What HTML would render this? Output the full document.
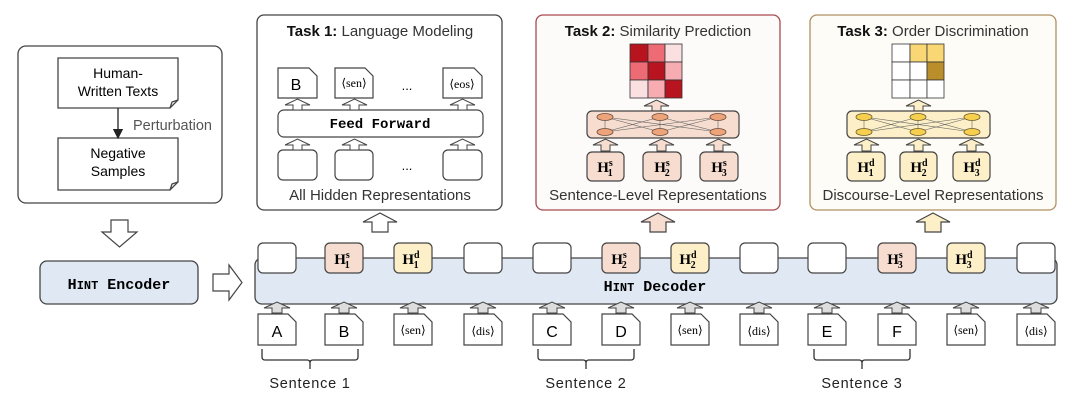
<!DOCTYPE html>
<html><head><meta charset="utf-8"><style>
html,body{margin:0;padding:0;background:#fff;}
svg{display:block;}
.s{font-family:"Liberation Sans",sans-serif;}
.m{font-family:"Liberation Mono",monospace;font-weight:bold;}
.r{font-family:"Liberation Serif",serif;}
</style></head><body>
<svg width="1080" height="404" viewBox="0 0 1080 404" xmlns="http://www.w3.org/2000/svg">
<defs>
<marker id="ah" markerWidth="8" markerHeight="8" refX="4" refY="4" orient="auto"><path d="M0,0 L8,4 L0,8 z" fill="#222"/></marker>
</defs>
<g stroke="#444" stroke-width="1.3" fill="#fff">
<rect x="18" y="46" width="204" height="157" rx="8"/>
<path d="M58,58 h120 v42 l-8,8 h-112 z"/><path d="M170,108 l2,-6 l6,-2" fill="none"/>
<path d="M58,138 h120 v44 l-8,8 h-112 z"/><path d="M170,190 l2,-6 l6,-2" fill="none"/>
</g>
<line x1="118" y1="108" x2="118" y2="134" stroke="#222" stroke-width="1.3" marker-end="url(#ah)"/>
<text x="133" y="130" class="s" font-size="14.5" fill="#555">Perturbation</text>
<text x="118" y="78" class="s" font-size="14" text-anchor="middle">Human-</text>
<text x="118" y="96" class="s" font-size="14" text-anchor="middle">Written Texts</text>
<text x="118" y="158" class="s" font-size="14" text-anchor="middle">Negative</text>
<text x="118" y="176" class="s" font-size="14" text-anchor="middle">Samples</text>
<polygon points="111,220 128,220 128,232 137,232 119.5,247 102,232 111,232" fill="#fff" stroke="#444" stroke-width="1.2"/>
<rect x="40" y="261" width="158" height="43" rx="7" fill="#dfe8f3" stroke="#444" stroke-width="1.3"/>
<text x="119" y="289" class="m" font-size="15" text-anchor="middle">H<tspan font-size="12">INT</tspan> Encoder</text>
<polygon points="213,274 229,274 229,265 242,282.5 229,300 229,291 213,291" fill="#fff" stroke="#444" stroke-width="1.2"/>

<!-- Task 1 -->
<rect x="257" y="15" width="245" height="195" rx="7" fill="#fff" stroke="#444" stroke-width="1.3"/>
<text x="380" y="36" class="s" font-size="15" text-anchor="middle" fill="#333"><tspan font-weight="bold" fill="#111">Task 1:</tspan> Language Modeling</text>
<g stroke="#444" stroke-width="1.2" fill="#fff">
<path d="M278,68 h31 l8,8 v22 h-39 z"/><path d="M335,68 h30 l8,8 v22 h-38 z"/><path d="M443,68 h31 l8,8 v22 h-39 z"/>
<rect x="278" y="110" width="205" height="27" rx="6"/>
<rect x="278" y="150" width="39" height="30" rx="5"/><rect x="335" y="150" width="38" height="30" rx="5"/><rect x="443" y="150" width="39" height="30" rx="5"/>
</g>
<g fill="#fff" stroke="#444" stroke-width="1">
<polygon points="293,110 293,105 285,105 297.5,99 310,105 302,105 302,110"/>
<polygon points="350,110 350,105 342,105 354.5,99 367,105 359,105 359,110"/>
<polygon points="458,110 458,105 450,105 462.5,99 475,105 467,105 467,110"/>
<polygon points="293,150 293,145 285,145 297.5,139 310,145 302,145 302,150"/>
<polygon points="350,150 350,145 342,145 354.5,139 367,145 359,145 359,150"/>
<polygon points="458,150 458,145 450,145 462.5,139 475,145 467,145 467,150"/>
</g>
<text x="296" y="90" class="s" font-size="16" text-anchor="middle">B</text>
<text x="354" y="87" class="r" font-size="12" text-anchor="middle">⟨sen⟩</text>
<text x="462" y="88" class="r" font-size="12" text-anchor="middle">⟨eos⟩</text>
<text x="407" y="90" class="s" font-size="13" text-anchor="middle">...</text>
<text x="407" y="170" class="s" font-size="13" text-anchor="middle">...</text>
<text x="380" y="128" class="m" font-size="14" text-anchor="middle">Feed Forward</text>
<text x="380" y="200" class="s" font-size="15" text-anchor="middle" fill="#333">All Hidden Representations</text>

<!-- Task 2 -->
<rect x="536" y="15" width="244" height="195" rx="7" fill="#fdfbf9" stroke="#a94a4f" stroke-width="1.3"/>
<text x="658" y="36" class="s" font-size="15" text-anchor="middle" fill="#333"><tspan font-weight="bold" fill="#111">Task 2:</tspan> Similarity Prediction</text>
<g stroke="#333" stroke-width="0.8">
<rect x="630" y="44" width="18" height="18" fill="#b8141f"/><rect x="648" y="44" width="17" height="18" fill="#ec6b74"/><rect x="665" y="44" width="17" height="18" fill="#fbe0e2"/>
<rect x="630" y="62" width="18" height="18" fill="#ec6b74"/><rect x="648" y="62" width="17" height="18" fill="#b8141f"/><rect x="665" y="62" width="17" height="18" fill="#f6acb0"/>
<rect x="630" y="80" width="18" height="18" fill="#fbe0e2"/><rect x="648" y="80" width="17" height="18" fill="#f6acb0"/><rect x="665" y="80" width="17" height="18" fill="#b8141f"/>
</g>
<polygon points="652,111 652,106 644,106 656.5,100 669,106 661,106 661,111" fill="#f6ddd0" stroke="#444"/>
<rect x="587" y="111" width="152" height="27" rx="5" fill="#f6ddd0" stroke="#444" stroke-width="1.2"/>
<g stroke="#666" stroke-width="0.6">
<line x1="605" y1="117" x2="605" y2="132"/><line x1="660" y1="117" x2="660" y2="132"/><line x1="718" y1="117" x2="718" y2="132"/>
<line x1="605" y1="117" x2="660" y2="132"/><line x1="605" y1="117" x2="718" y2="132"/><line x1="660" y1="117" x2="605" y2="132"/><line x1="660" y1="117" x2="718" y2="132"/><line x1="718" y1="117" x2="605" y2="132"/><line x1="718" y1="117" x2="660" y2="132"/>
</g>
<g fill="#eea47a" stroke="#6a4a3a" stroke-width="0.8">
<ellipse cx="605" cy="117" rx="8" ry="3.5"/><ellipse cx="660" cy="117" rx="8" ry="3.5"/><ellipse cx="718" cy="117" rx="8" ry="3.5"/>
<ellipse cx="605" cy="132" rx="8" ry="3.5"/><ellipse cx="660" cy="132" rx="8" ry="3.5"/><ellipse cx="718" cy="132" rx="8" ry="3.5"/>
</g>
<g fill="#f6ddd0" stroke="#444" stroke-width="1">
<polygon points="601,151 601,145 593,145 605.5,139 618,145 610,145 610,151"/>
<polygon points="657,151 657,145 649,145 661.5,139 674,145 666,145 666,151"/>
<polygon points="714,151 714,145 706,145 718.5,139 731,145 723,145 723,151"/>
<rect x="587" y="152" width="37" height="29" rx="5" stroke-width="1.2"/><rect x="643" y="152" width="38" height="29" rx="5" stroke-width="1.2"/><rect x="700" y="152" width="38" height="29" rx="5" stroke-width="1.2"/>
</g>
<g class="r" font-size="15" font-weight="bold" text-anchor="middle">
<text x="605" y="172">H<tspan font-size="10" dy="-6">s</tspan><tspan font-size="10" dx="-5" dy="10">1</tspan></text>
<text x="662" y="172">H<tspan font-size="10" dy="-6">s</tspan><tspan font-size="10" dx="-5" dy="10">2</tspan></text>
<text x="719" y="172">H<tspan font-size="10" dy="-6">s</tspan><tspan font-size="10" dx="-5" dy="10">3</tspan></text>
</g>
<text x="658" y="200" class="s" font-size="15" text-anchor="middle" fill="#333">Sentence-Level Representations</text>

<!-- Task 3 -->
<rect x="810" y="15" width="246" height="195" rx="7" fill="#fdfcf7" stroke="#b09060" stroke-width="1.3"/>
<text x="933" y="36" class="s" font-size="15" text-anchor="middle" fill="#333"><tspan font-weight="bold" fill="#111">Task 3:</tspan> Order Discrimination</text>
<g stroke="#333" stroke-width="0.8">
<rect x="892" y="44" width="18" height="18" fill="#fff"/><rect x="910" y="44" width="17" height="18" fill="#f8d774"/><rect x="927" y="44" width="17" height="18" fill="#f8d774"/>
<rect x="892" y="62" width="18" height="18" fill="#fff"/><rect x="910" y="62" width="17" height="18" fill="#fff"/><rect x="927" y="62" width="17" height="18" fill="#ba8e2a"/>
<rect x="892" y="80" width="18" height="18" fill="#fff"/><rect x="910" y="80" width="17" height="18" fill="#fff"/><rect x="927" y="80" width="17" height="18" fill="#fff"/>
</g>
<polygon points="914,111 914,106 906,106 918.5,100 931,106 923,106 923,111" fill="#fdf0c8" stroke="#444"/>
<rect x="847" y="111" width="143" height="27" rx="5" fill="#fdf0c8" stroke="#444" stroke-width="1.2"/>
<g stroke="#666" stroke-width="0.6">
<line x1="864" y1="117" x2="864" y2="132"/><line x1="918" y1="117" x2="918" y2="132"/><line x1="972" y1="117" x2="972" y2="132"/>
<line x1="864" y1="117" x2="918" y2="132"/><line x1="864" y1="117" x2="972" y2="132"/><line x1="918" y1="117" x2="864" y2="132"/><line x1="918" y1="117" x2="972" y2="132"/><line x1="972" y1="117" x2="864" y2="132"/><line x1="972" y1="117" x2="918" y2="132"/>
</g>
<g fill="#f7cf4f" stroke="#6a5a2a" stroke-width="0.8">
<ellipse cx="864" cy="117" rx="8" ry="3.5"/><ellipse cx="918" cy="117" rx="8" ry="3.5"/><ellipse cx="972" cy="117" rx="8" ry="3.5"/>
<ellipse cx="864" cy="132" rx="8" ry="3.5"/><ellipse cx="918" cy="132" rx="8" ry="3.5"/><ellipse cx="972" cy="132" rx="8" ry="3.5"/>
</g>
<g fill="#fdf0c8" stroke="#444" stroke-width="1">
<polygon points="862,151 862,145 854,145 866.5,139 879,145 871,145 871,151"/>
<polygon points="914,151 914,145 906,145 918.5,139 931,145 923,145 923,151"/>
<polygon points="967,151 967,145 959,145 971.5,139 984,145 976,145 976,151"/>
<rect x="847" y="152" width="38" height="29" rx="5" stroke-width="1.2"/><rect x="900" y="152" width="37" height="29" rx="5" stroke-width="1.2"/><rect x="953" y="152" width="37" height="29" rx="5" stroke-width="1.2"/>
</g>
<g class="r" font-size="15" font-weight="bold" text-anchor="middle">
<text x="866" y="172">H<tspan font-size="10" dy="-6">d</tspan><tspan font-size="10" dx="-6" dy="10">1</tspan></text>
<text x="919" y="172">H<tspan font-size="10" dy="-6">d</tspan><tspan font-size="10" dx="-6" dy="10">2</tspan></text>
<text x="972" y="172">H<tspan font-size="10" dy="-6">d</tspan><tspan font-size="10" dx="-6" dy="10">3</tspan></text>
</g>
<text x="933" y="200" class="s" font-size="15" text-anchor="middle" fill="#333">Discourse-Level Representations</text>

<polygon points="372,232 372,222 363,222 380,213 397,222 388,222 388,232" fill="#fff" stroke="#444" stroke-width="1.2"/>
<polygon points="650,232 650,222 641,222 658,213 675,222 666,222 666,232" fill="#f6ddd0" stroke="#444" stroke-width="1.2"/>
<polygon points="925,232 925,222 916,222 933,213 950,222 941,222 941,232" fill="#fdf0c8" stroke="#444" stroke-width="1.2"/>

<!-- decoder -->
<rect x="255" y="258" width="802" height="46" rx="7" fill="#dfe8f3" stroke="#444" stroke-width="1.3"/>
<text x="655" y="291" class="m" font-size="15" text-anchor="middle">H<tspan font-size="12">INT</tspan> Decoder</text>
<g stroke="#444" stroke-width="1.2">
<rect x="258" y="243" width="38" height="30" rx="5" fill="#fff"/>
<rect x="325" y="243" width="38" height="30" rx="5" fill="#f6ddd0"/>
<rect x="394" y="243" width="38" height="30" rx="5" fill="#fdf0c8"/>
<rect x="464" y="243" width="38" height="30" rx="5" fill="#fff"/>
<rect x="533" y="243" width="38" height="30" rx="5" fill="#fff"/>
<rect x="602" y="243" width="38" height="30" rx="5" fill="#f6ddd0"/>
<rect x="671" y="243" width="38" height="30" rx="5" fill="#fdf0c8"/>
<rect x="740" y="243" width="38" height="30" rx="5" fill="#fff"/>
<rect x="808" y="243" width="38" height="30" rx="5" fill="#fff"/>
<rect x="878" y="243" width="38" height="30" rx="5" fill="#f6ddd0"/>
<rect x="947" y="243" width="38" height="30" rx="5" fill="#fdf0c8"/>
<rect x="1017" y="243" width="38" height="30" rx="5" fill="#fff"/>
</g>
<g class="r" font-size="15" font-weight="bold" text-anchor="middle">
<text x="342" y="264">H<tspan font-size="10" dy="-6">s</tspan><tspan font-size="10" dx="-5" dy="10">1</tspan></text>
<text x="411" y="264">H<tspan font-size="10" dy="-6">d</tspan><tspan font-size="10" dx="-6" dy="10">1</tspan></text>
<text x="619" y="264">H<tspan font-size="10" dy="-6">s</tspan><tspan font-size="10" dx="-5" dy="10">2</tspan></text>
<text x="688" y="264">H<tspan font-size="10" dy="-6">d</tspan><tspan font-size="10" dx="-6" dy="10">2</tspan></text>
<text x="895" y="264">H<tspan font-size="10" dy="-6">s</tspan><tspan font-size="10" dx="-5" dy="10">3</tspan></text>
<text x="964" y="264">H<tspan font-size="10" dy="-6">d</tspan><tspan font-size="10" dx="-6" dy="10">3</tspan></text>
</g>
<g fill="#ddd" stroke="#444" stroke-width="1">
<polygon points="272,313 272,308 264,308 277,302 290,308 282,308 282,313"/>
<polygon points="339,313 339,308 331,308 344,302 357,308 349,308 349,313"/>
<polygon points="408,313 408,308 400,308 413,302 426,308 418,308 418,313"/>
<polygon points="478,313 478,308 470,308 483,302 496,308 488,308 488,313"/>
<polygon points="547,313 547,308 539,308 552,302 565,308 557,308 557,313"/>
<polygon points="616,313 616,308 608,308 621,302 634,308 626,308 626,313"/>
<polygon points="685,313 685,308 677,308 690,302 703,308 695,308 695,313"/>
<polygon points="754,313 754,308 746,308 759,302 772,308 764,308 764,313"/>
<polygon points="822,313 822,308 814,308 827,302 840,308 832,308 832,313"/>
<polygon points="892,313 892,308 884,308 897,302 910,308 902,308 902,313"/>
<polygon points="961,313 961,308 953,308 966,302 979,308 971,308 971,313"/>
<polygon points="1031,313 1031,308 1023,308 1036,302 1049,308 1041,308 1041,313"/>
</g>
<g fill="#fff" stroke="#444" stroke-width="1.2">
<path d="M258,314 h30 l8,8 v23 h-38 z"/><path d="M325,314 h30 l8,8 v23 h-38 z"/>
<path d="M394,314 h30 l8,8 v23 h-38 z"/><path d="M464,314 h30 l8,8 v23 h-38 z"/>
<path d="M533,314 h30 l8,8 v23 h-38 z"/><path d="M602,314 h30 l8,8 v23 h-38 z"/>
<path d="M671,314 h30 l8,8 v23 h-38 z"/><path d="M740,314 h30 l8,8 v23 h-38 z"/>
<path d="M808,314 h30 l8,8 v23 h-38 z"/><path d="M878,314 h30 l8,8 v23 h-38 z"/>
<path d="M947,314 h30 l8,8 v23 h-38 z"/><path d="M1017,314 h30 l8,8 v23 h-38 z"/>
</g>
<g class="s" font-size="16" text-anchor="middle">
<text x="277" y="337">A</text><text x="344" y="337">B</text>
<text x="552" y="337">C</text><text x="621" y="337">D</text>
<text x="827" y="337">E</text><text x="897" y="337">F</text>
</g>
<g class="r" font-size="12" text-anchor="middle">
<text x="413" y="334">⟨sen⟩</text><text x="483" y="335">⟨dis⟩</text>
<text x="690" y="334">⟨sen⟩</text><text x="759" y="335">⟨dis⟩</text>
<text x="966" y="334">⟨sen⟩</text><text x="1036" y="335">⟨dis⟩</text>
</g>
<g fill="none" stroke="#333" stroke-width="1.3">
<path d="M262,349 v8 q0,3 3,3 h42 q3,0 3,3 v6 v-6 q0,-3 3,-3 h42 q3,0 3,-3 v-8"/>
<path d="M538,349 v8 q0,3 3,3 h42 q3,0 3,3 v6 v-6 q0,-3 3,-3 h42 q3,0 3,-3 v-8"/>
<path d="M814,349 v8 q0,3 3,3 h42 q3,0 3,3 v6 v-6 q0,-3 3,-3 h42 q3,0 3,-3 v-8"/>
</g>
<g class="s" font-size="14.5" text-anchor="middle" fill="#222" letter-spacing="0.8">
<text x="310" y="388">Sentence 1</text><text x="586" y="388">Sentence 2</text><text x="862" y="388">Sentence 3</text>
</g>
</svg>
</body></html>
